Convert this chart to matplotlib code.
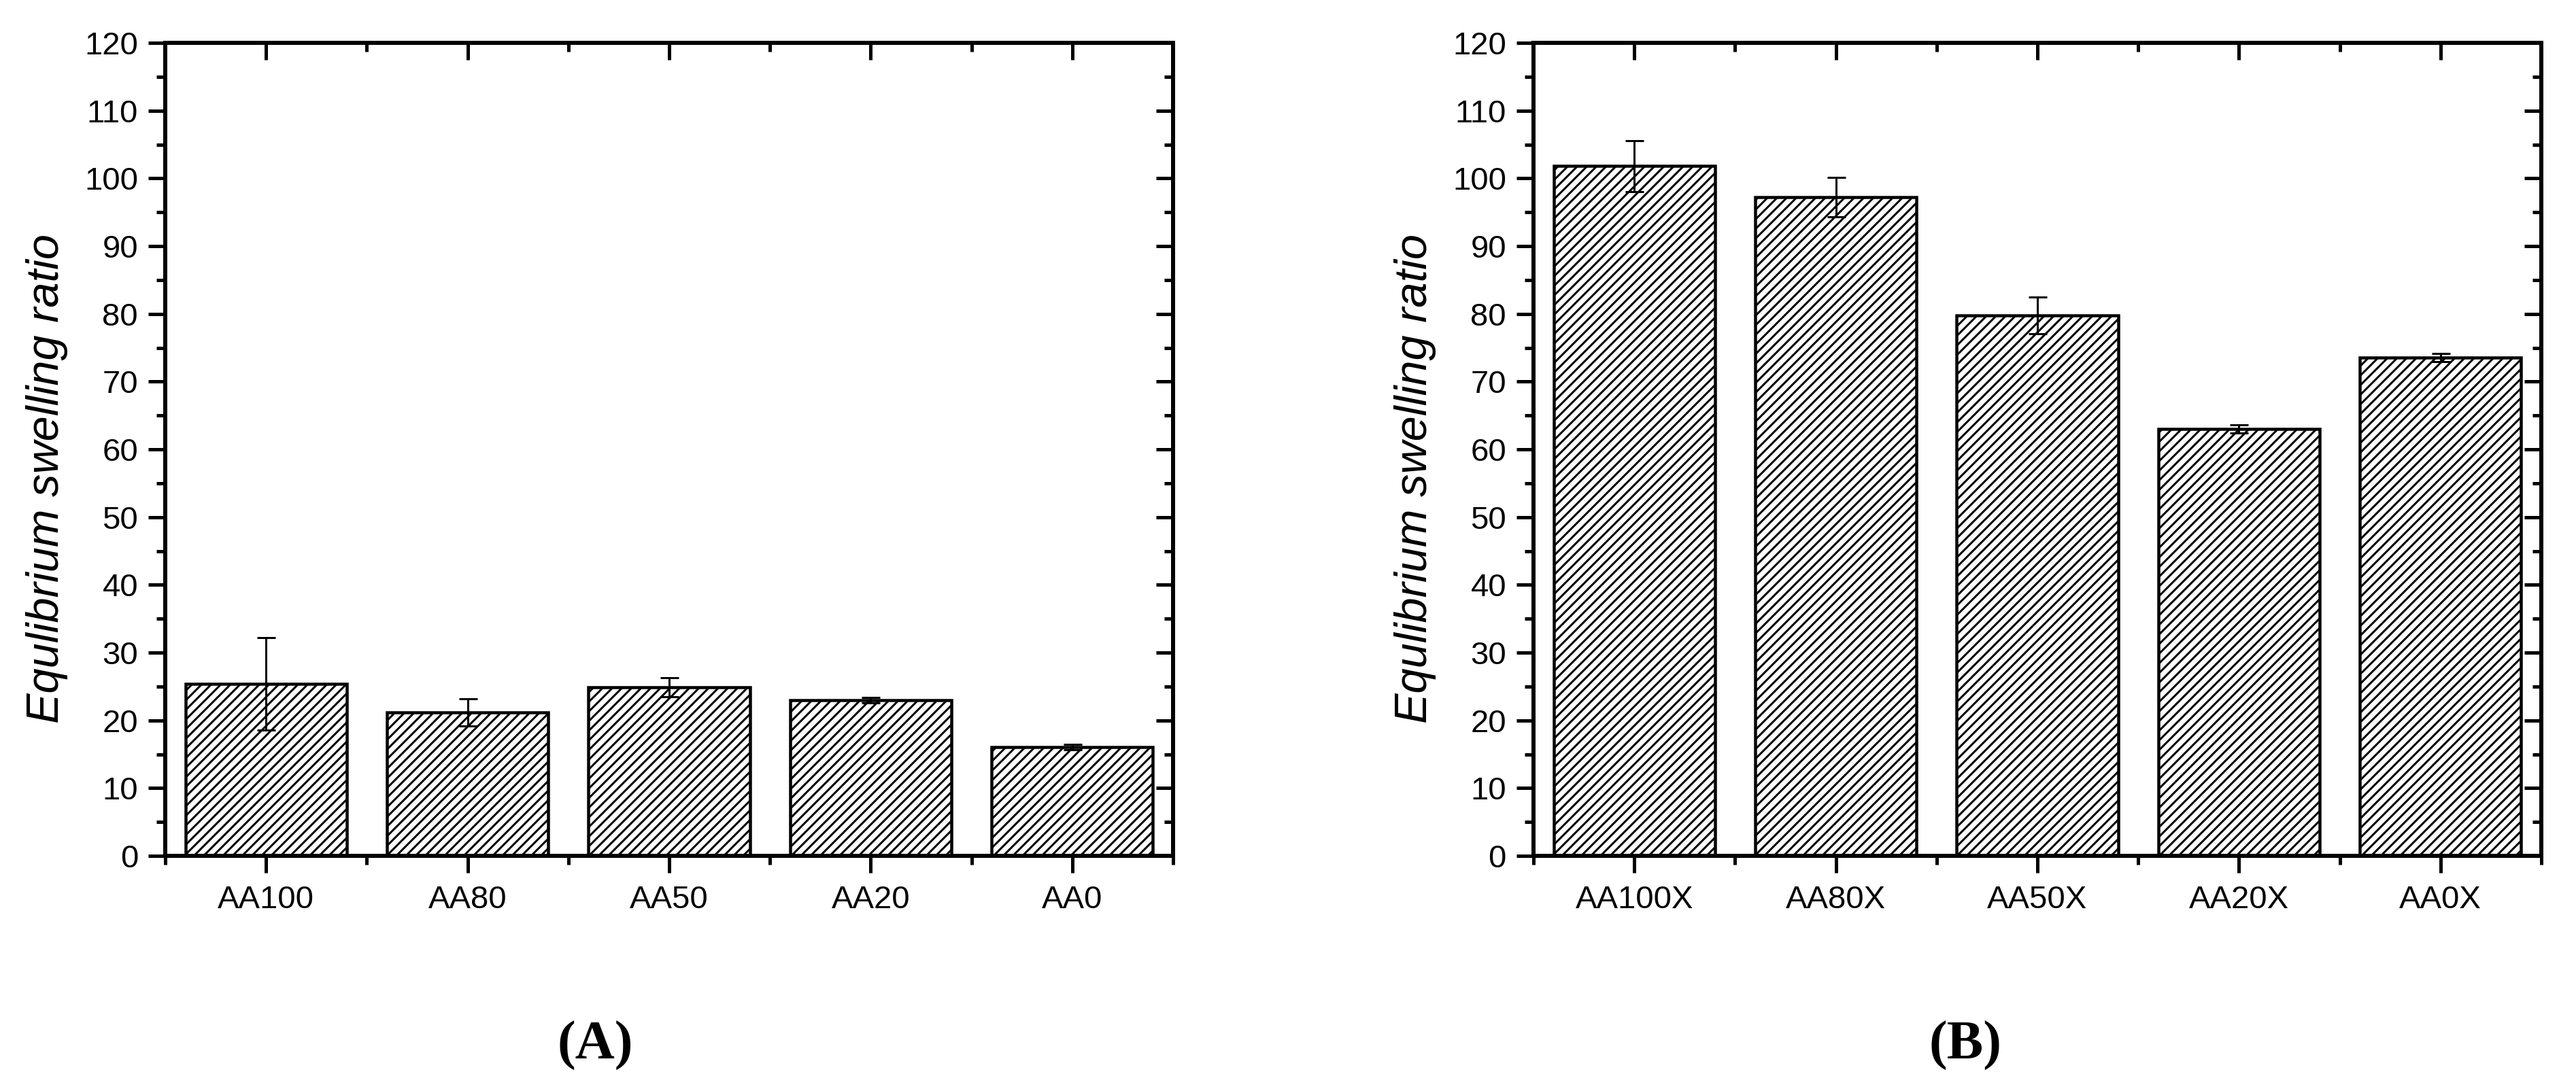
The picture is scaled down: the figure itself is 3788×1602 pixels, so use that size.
import matplotlib
matplotlib.use("Agg")
import matplotlib.pyplot as plt
from matplotlib.ticker import MultipleLocator, FixedLocator, NullFormatter

# ---- data ----
cats_a = ["AA100", "AA80", "AA50", "AA20", "AA0"]
vals_a = [25.4, 21.2, 24.9, 23.0, 16.1]
errs_a = [6.8, 2.0, 1.4, 0.4, 0.4]

cats_b = ["AA100X", "AA80X", "AA50X", "AA20X", "AA0X"]
vals_b = [101.8, 97.2, 79.8, 63.0, 73.5]
errs_b = [3.8, 2.9, 2.7, 0.6, 0.6]

ylabel = "Equlibrium swelling ratio"
panel_labels = ["(A)", "(B)"]

DPI = 85
W, H = 3788, 1602
pt = 72.0 / DPI  # px -> pt

plt.rcParams["font.family"] = ["Liberation Sans", "DejaVu Sans"]
plt.rcParams["hatch.linewidth"] = 3 * pt
plt.rcParams["hatch.color"] = "black"

fig = plt.figure(figsize=(W / DPI, H / DPI), dpi=DPI)

ax_w = 1482 / W
ax_h = 1196 / H
ax_bottom = (H - 1259) / H
lefts = [243 / W, 2255 / W]

spine_w = 6 * pt
tick_w = 5 * pt
maj_len = 25 * pt
min_len = 13 * pt
fs_tick = 40
fs_label = 56.5


def draw_panel(left, cats, vals, errs):
    ax = fig.add_axes([left, ax_bottom, ax_w, ax_h])
    x = list(range(1, len(cats) + 1))
    ax.bar(x, vals, width=0.8, facecolor="white", edgecolor="black",
           linewidth=4.5 * pt, hatch="//", zorder=2)
    ax.errorbar(x, vals, yerr=errs, fmt="none", ecolor="black",
                elinewidth=3 * pt, capsize=13.5 * pt, capthick=3 * pt, zorder=3)
    ax.set_xlim(0.5, len(cats) + 0.5)
    ax.set_ylim(0, 120)
    ax.xaxis.set_major_locator(FixedLocator(x))
    ax.xaxis.set_minor_locator(FixedLocator([i + 0.5 for i in range(0, len(cats) + 1)]))
    ax.set_xticklabels(cats)
    ax.yaxis.set_major_locator(MultipleLocator(10))
    ax.yaxis.set_minor_locator(MultipleLocator(5))
    for s in ax.spines.values():
        s.set_linewidth(spine_w)
    ax.tick_params(which="both", direction="out", width=tick_w,
                   left=True, bottom=True, right=False, top=False,
                   labelsize=fs_tick)
    ax.tick_params(which="major", length=maj_len, pad=15 * pt)
    ax.tick_params(which="minor", length=min_len)
    ax.tick_params(axis="x", which="major", pad=18 * pt)

    # inward ticks on right and top
    axr = ax.twinx()
    axr.set_ylim(ax.get_ylim())
    axr.yaxis.set_major_locator(MultipleLocator(10))
    axr.yaxis.set_minor_locator(MultipleLocator(5))
    axr.yaxis.set_major_formatter(NullFormatter())
    axr.tick_params(which="both", direction="in", width=tick_w, right=True,
                    labelright=False)
    axr.tick_params(which="major", length=maj_len)
    axr.tick_params(which="minor", length=min_len)
    axt = ax.twiny()
    axt.set_xlim(ax.get_xlim())
    axt.xaxis.set_major_locator(FixedLocator(x))
    axt.xaxis.set_minor_locator(FixedLocator([i + 0.5 for i in range(0, len(cats) + 1)]))
    axt.xaxis.set_major_formatter(NullFormatter())
    axt.tick_params(which="both", direction="in", width=tick_w, top=True,
                    labeltop=False)
    axt.tick_params(which="major", length=maj_len)
    axt.tick_params(which="minor", length=min_len)
    for a in (axr, axt):
        for s in a.spines.values():
            s.set_linewidth(spine_w)

    ax.set_ylabel(ylabel, fontsize=fs_label, fontstyle="italic",
                  family=["Liberation Sans", "DejaVu Sans"])
    ax.yaxis.set_label_coords((100 - 243) / 1482, 0.464)
    return ax


draw_panel(lefts[0], cats_a, vals_a, errs_a)
draw_panel(lefts[1], cats_b, vals_b, errs_b)

for xc, lab in zip([875 / W, 2890 / W], panel_labels):
    fig.text(xc, (H - 1558) / H, lab, ha="center", va="baseline",
             fontsize=68, fontweight="bold",
             family=["Liberation Serif", "DejaVu Serif"])

fig.savefig("out.png", dpi=DPI)
